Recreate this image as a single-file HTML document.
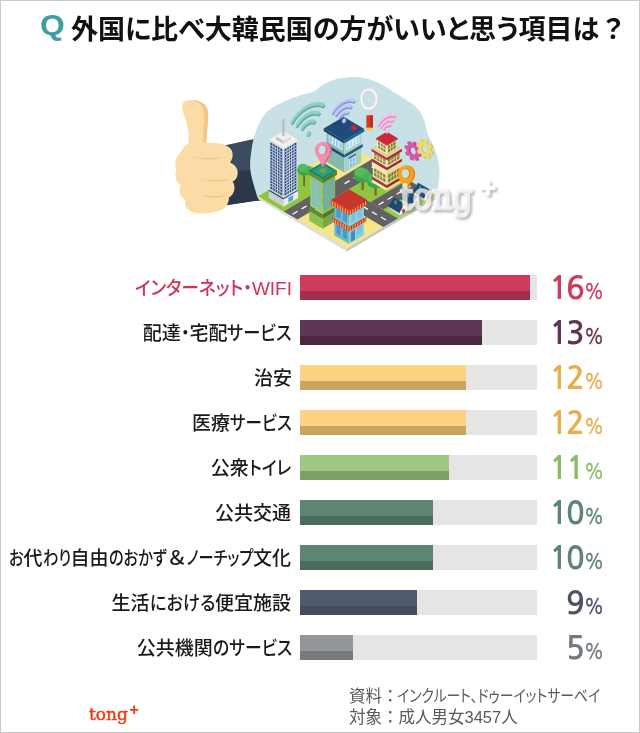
<!DOCTYPE html>
<html lang="ja">
<head>
<meta charset="utf-8">
<title>外国に比べ大韓民国の方がいいと思う項目は？</title>
<style>
html,body{margin:0;padding:0;background:#fff;}
body{width:640px;height:733px;overflow:hidden;position:relative;font-family:"Liberation Sans","Noto Sans CJK JP",sans-serif;}
#frame{position:absolute;left:0;top:0;width:640px;height:733px;background:#fff;}
#edge{position:absolute;left:0;top:0;width:640px;height:733px;box-sizing:border-box;border:1px solid #c9c9c9;pointer-events:none;}
.abs{position:absolute;white-space:nowrap;}
#q{left:39.5px;top:5px;font-size:30px;line-height:40px;color:#3a9fa3;font-weight:bold;transform-origin:left center;transform:scaleX(1.06);}
#title{left:71px;top:9.5px;font-size:27px;line-height:40px;font-weight:bold;color:#111;font-feature-settings:'palt';transform-origin:left center;letter-spacing:0;}
.row{position:absolute;left:0;width:640px;height:25px;}
.track{position:absolute;left:300px;top:0;width:237px;height:25px;background:#e5e5e5;}
.bar{position:absolute;left:0;top:0;height:25px;}
.bar i{position:absolute;left:0;right:0;bottom:0;height:9px;display:block;}
.lab{position:absolute;right:348px;font-feature-settings:'palt';top:-1.5px;height:30px;line-height:30px;font-size:19px;font-weight:500;color:#1a1a1a;white-space:nowrap;transform-origin:right center;font-family:"Liberation Sans","Noto Sans CJK JP",sans-serif;}
.lab .k{display:inline-block;transform-origin:left center;}
.pct{position:absolute;right:32.5px;text-align:right;top:-6.5px;height:40px;line-height:40px;font-size:31px;font-weight:700;white-space:nowrap;letter-spacing:-2.2px;font-family:"NanumGothic","Noto Sans CJK JP","Liberation Sans",sans-serif;}
.pct b{font-weight:400;font-size:22px;letter-spacing:0;-webkit-text-stroke:0.5px currentColor;display:inline-block;transform:scaleX(.84);transform-origin:left bottom;margin-left:1px;}
#src{left:349px;top:686px;font-size:16.5px;line-height:21px;color:#5a5a5a;font-feature-settings:'palt';transform-origin:left top;}
#src .k{display:inline-block;transform-origin:left center;transform:scaleX(.84);margin-left:-2px;}
#src .c{font-feature-settings:normal;}
#logo{left:89px;top:699.5px;font-family:"DejaVu Serif","Liberation Serif",serif;font-weight:normal;font-size:17px;line-height:28px;color:#f03c14;-webkit-text-stroke:0.5px #f03c14;}
#logo sup{position:absolute;left:40.5px;top:-4px;font-size:16px;line-height:28px;font-weight:bold;-webkit-text-stroke:0;font-family:"Liberation Sans",sans-serif;}
</style>
</head>
<body>
<div id="frame">
<div id="q" class="abs">Q</div>
<div id="title" class="abs">外国に比べ大韓民国の方がいいと思う項目は<span style="margin-left:5px">？</span></div>

<!--ILLUSTRATION-->
<svg id="art" width="640" height="270" viewBox="0 0 640 270" style="position:absolute;left:0;top:0">
<polygon points="222.0,146.0 256.0,138.5 262.0,200.0 224.0,205.5" fill="#3b4a5f"/>
<polygon points="230.0,172.0 258.0,169.0 262.0,200.0 224.0,205.5" fill="#2c3849"/>
<path d="M250.5,171.0 C249.5,163.1 250.6,156.7 251.5,150.0 C252.4,143.3 253.8,137.0 256.0,131.0 C258.2,125.0 261.0,118.6 265.0,114.0 C269.0,109.4 274.2,106.6 280.0,103.5 C285.8,100.4 294.2,97.5 300.0,95.5 C305.8,93.5 315.0,91.5 315.0,91.5 C315.0,91.5 318.8,87.1 322.5,85.0 C326.2,82.9 332.1,80.1 337.5,78.8 C342.9,77.5 349.6,76.9 355.0,77.0 C360.4,77.1 365.0,78.0 370.0,79.5 C375.0,81.0 381.2,84.2 385.0,86.3 C388.8,88.4 393.0,92.0 393.0,92.0 C393.0,92.0 396.2,93.5 400.0,96.0 C403.8,98.5 411.7,103.0 415.6,106.7 C419.5,110.4 421.4,114.1 423.4,118.4 C425.3,122.7 426.3,129.3 427.3,132.5 C428.3,135.7 428.3,135.4 429.4,137.8 C430.5,140.2 432.5,143.3 434.0,147.2 C435.5,151.1 437.5,156.8 438.4,161.3 C439.3,165.8 439.4,169.9 439.4,174.0 C439.4,178.1 438.8,182.2 438.2,186.0 C437.6,189.8 435.5,196.5 435.5,196.5 C435.5,196.5 346.9,250.6 346.9,250.6 C346.9,250.6 257.5,197.2 257.5,197.2 C257.5,197.2 251.5,178.9 250.5,171.0Z" fill="#c8e1e6"/>
<path d="M188.5,143 C190,130 185,118 182.5,110 C180.5,102 186,99.5 192,100 C201,100.5 207,104 208,112 C209,124 206,134 206.5,143 C216,142 228,144 231.5,150 C234,155 232,160 230,162.5 C237,165 239.5,172 236.5,178 C235.5,180 234,181 232.5,181.5 C236,186 235,194 229,197.5 C229,204 225,209 219,211 C210,214 196,214.5 191,211.5 C186,209 184,204 185.5,200 C180,197 178,190 181,185.5 C176,182 174,175 176.5,170 C173.5,164 176,156 181,152 C183,148 185,145 188.5,143Z" fill="#fbdca6"/>
<path d="M193,100 C201,100.5 207,104 208,112 C209,124 206,134 206.5,143 L203,142 C203,130 205,118 203.5,111 C202.5,105 198,102 193,100Z" fill="#f2c888"/>
<path d="M193,156.5 C203,158.5 214,158.5 223,156.5 C214,160.5 203,160 193,156.5Z" fill="#efc27e"/>
<path d="M199.5,178.5 C210,180.5 222,180.5 231,178.5 C222,182.5 210,182 199.5,178.5Z" fill="#efc27e"/>
<path d="M202,195 C210,196.5 219,196.5 226.5,195 C219,198.5 210,198 202,195Z" fill="#efc27e"/>
<polygon points="258.1,196.2 346.9,248.6 346.9,251.4 258.1,199.1" fill="#dedede"/>
<polygon points="346.9,248.6 435.9,196.1 435.9,198.9 346.9,251.4" fill="#c6c6c6"/>
<g>
<polygon points="258.1,196.2 346.9,248.6 435.9,196.1 347.1,143.7" fill="#f7e58b"/>
<polygon points="258.1,196.2 283.7,211.4 335.7,180.7 310.1,165.6" fill="#8dc63f"/>
<polygon points="348.5,189.4 370.1,202.2 408.1,179.7 386.5,167.0" fill="#8dc63f"/>
<polygon points="383.1,209.8 397.9,218.6 435.9,196.1 421.1,187.4" fill="#8dc63f"/>
<polygon points="283.7,211.4 297.5,219.5 386.5,167.0 372.7,158.8" fill="#626262"/>
<polygon points="334.0,198.0 383.4,227.1 397.9,218.6 348.5,189.4" fill="#626262"/>
<polygon points="370.1,202.2 383.1,209.8 421.1,187.4 408.1,179.7" fill="#626262"/>
<path d="M292.6,214.2 L297.6,211.3 M301.6,208.9 L306.6,206.0 M310.6,203.6 L315.6,200.7 M319.6,198.3 L324.6,195.4 M344.6,183.6 L349.6,180.6 M353.6,178.3 L358.6,175.3 M362.6,172.9 L367.6,170.0 M371.6,167.6 L376.6,164.7 M344.9,195.8 L349.9,198.8 M353.9,201.1 L358.9,204.1 M362.9,206.4 L367.9,209.4 M371.9,211.7 L376.9,214.7 M380.9,217.0 L385.9,220.0 M378.6,204.8 L383.6,201.9 M387.6,199.5 L392.6,196.5 M396.6,194.2 L401.6,191.2 M405.6,188.9 L410.6,185.9 " stroke="#fff" stroke-width="1.3" fill="none"/>
</g>
<polygon points="326.7,162.0 344.3,172.4 344.3,141.4 326.7,131.0" fill="#86b8ab"/><polygon points="344.3,172.4 361.3,162.4 361.3,131.4 344.3,141.4" fill="#a6d2c6"/>
<polygon points="325.3,146.5 344.3,157.7 344.3,154.7 325.3,143.5" fill="#1f4a7a"/>
<polygon points="344.3,157.7 362.7,146.9 362.7,143.9 344.3,154.7" fill="#2a5a8c"/>
<polygon points="328.7,142.2 342.3,150.2 342.3,143.2 328.7,135.2" fill="#f1f6f8"/>
<polygon points="329.2,141.9 341.8,149.3 341.8,143.5 329.2,136.1" fill="#8ecbf2"/>
<path d="M332.4,143.8 L332.4,138.0 M335.5,145.6 L335.5,139.8 M338.7,147.5 L338.7,141.7 " stroke="#f1f6f8" stroke-width="1.1" fill="none"/>
<polygon points="346.3,150.2 359.3,142.6 359.3,135.6 346.3,143.2" fill="#f6fafb"/>
<polygon points="346.8,149.3 358.8,142.3 358.8,136.5 346.8,143.5" fill="#a9d8f7"/>
<path d="M349.8,147.6 L349.8,141.8 M352.8,145.8 L352.8,140.0 M355.8,144.0 L355.8,138.2 " stroke="#f6fafb" stroke-width="1.1" fill="none"/>
<polygon points="349.3,168.5 355.3,164.9 355.3,154.9 349.3,158.5" fill="#dfeff0"/>
<polygon points="349.9,168.1 354.7,165.3 354.7,156.8 349.9,159.6" fill="#7fbdf0"/>
<path d="M352.3,166.7 L352.3,158.2 M349.9,163.9 L354.7,161.0 " stroke="#dfeff0" stroke-width="0.7" fill="none"/>
<polygon points="348.7,159.3 355.9,155.1 355.9,153.4 348.7,157.6" fill="#2a5a8c"/>
<polygon points="323.7,131.0 344.3,143.2 344.3,140.8 323.7,128.6" fill="#163c66"/><polygon points="344.3,143.2 364.3,131.4 364.3,129.0 344.3,140.8" fill="#205a90"/><polygon points="323.7,128.6 344.3,140.8 364.3,129.0 343.7,116.8" fill="#1c4b7c"/>
<path d="M350.5,126.5 h2.2 v-2 h2.2 v2 h2.2 v2.4 h-2.2 v2 h-2.2 v-2 h-2.2z" fill="#d9232e"/>
<polygon points="268.7,198.0 283.4,206.7 283.4,198.7 268.7,190.0" fill="#cdcdcd"/><polygon points="283.4,206.7 298.1,198.0 298.1,190.0 283.4,198.7" fill="#ececec"/>
<polygon points="268.7,190.8 283.4,199.5 283.4,198.1 268.7,189.4" fill="#1f4e9a"/>
<polygon points="283.4,199.5 298.1,190.8 298.1,189.4 283.4,198.1" fill="#2a5cab"/>
<polygon points="269.3,189.4 283.4,197.7 283.4,147.8 269.3,139.5" fill="#dcdcdc"/><polygon points="283.4,197.7 297.5,189.4 297.5,139.5 283.4,147.8" fill="#e9e9e9"/><polygon points="269.3,139.5 283.4,147.8 297.5,139.5 283.4,131.2" fill="#f2f2f2"/>
<polygon points="270.4,188.7 282.3,195.7 282.3,149.2 270.4,142.2" fill="#234e93"/>
<path d="M272.8,190.1 L272.8,143.6 M275.2,191.5 L275.2,145.0 M277.5,192.9 L277.5,146.4 M279.9,194.3 L279.9,147.8 M270.4,185.8 L282.3,192.8 M270.4,182.9 L282.3,189.9 M270.4,180.0 L282.3,187.0 M270.4,177.0 L282.3,184.1 M270.4,174.1 L282.3,181.2 M270.4,171.2 L282.3,178.3 M270.4,168.3 L282.3,175.3 M270.4,165.4 L282.3,172.4 M270.4,162.5 L282.3,169.5 M270.4,159.6 L282.3,166.6 M270.4,156.7 L282.3,163.7 M270.4,153.8 L282.3,160.8 M270.4,150.9 L282.3,157.9 M270.4,148.0 L282.3,155.0 M270.4,145.1 L282.3,152.1 " stroke="#dcdcdc" stroke-width="0.8" fill="none"/>
<polygon points="284.5,195.7 296.4,188.7 296.4,142.2 284.5,149.2" fill="#1f4789"/>
<path d="M286.9,194.3 L286.9,147.8 M289.3,192.9 L289.3,146.4 M291.6,191.5 L291.6,145.0 M294.0,190.1 L294.0,143.6 M284.5,192.8 L296.4,185.8 M284.5,189.9 L296.4,182.9 M284.5,187.0 L296.4,180.0 M284.5,184.1 L296.4,177.0 M284.5,181.2 L296.4,174.1 M284.5,178.3 L296.4,171.2 M284.5,175.3 L296.4,168.3 M284.5,172.4 L296.4,165.4 M284.5,169.5 L296.4,162.5 M284.5,166.6 L296.4,159.6 M284.5,163.7 L296.4,156.7 M284.5,160.8 L296.4,153.8 M284.5,157.9 L296.4,150.9 M284.5,155.0 L296.4,148.0 M284.5,152.1 L296.4,145.1 " stroke="#e9e9e9" stroke-width="0.8" fill="none"/>
<polygon points="288.4,202.7 293.1,200.0 293.1,195.0 288.4,197.7" fill="#5aa0e0"/>
<polygon points="275.9,139.5 283.4,143.9 283.4,140.4 275.9,136.0" fill="#c6c6c6"/><polygon points="283.4,143.9 290.9,139.5 290.9,136.0 283.4,140.4" fill="#dedede"/><polygon points="275.9,136.0 283.4,140.4 290.9,136.0 283.4,131.6" fill="#efefef"/>
<rect x="282.3" y="119.0" width="2.2" height="17" fill="#bcbcbc"/>
<rect x="303.2" y="172.2" width="1.8" height="14.0" fill="#8a5a33"/><ellipse cx="304.1" cy="170.2" rx="7.0" ry="5.2" fill="#3aa54a"/><ellipse cx="302.9" cy="167.7" rx="5.2" ry="4.0" fill="#52bd5c"/><ellipse cx="307.3" cy="170.7" rx="3.6" ry="3.0" fill="#49b455"/>
<rect x="361.5" y="178.3" width="2.3" height="11.7" fill="#8a5a33"/><ellipse cx="362.7" cy="175.7" rx="9.1" ry="6.8" fill="#3aa54a"/><ellipse cx="361.1" cy="172.4" rx="6.8" ry="5.2" fill="#52bd5c"/><ellipse cx="366.9" cy="176.3" rx="4.7" ry="3.9" fill="#49b455"/>
<rect x="374.5" y="184.6" width="2.2" height="10.8" fill="#8a5a33"/><ellipse cx="375.6" cy="182.2" rx="8.4" ry="6.2" fill="#3aa54a"/><ellipse cx="374.2" cy="179.2" rx="6.2" ry="4.8" fill="#52bd5c"/><ellipse cx="379.4" cy="182.8" rx="4.3" ry="3.6" fill="#49b455"/>
<polygon points="372.0,182.2 386.8,191.0 386.8,187.7 372.0,178.9" fill="#f5ecb5"/><polygon points="386.8,191.0 401.6,182.2 401.6,178.9 386.8,187.7" fill="#e9dc98"/>
<polygon points="371.6,178.9 386.8,187.9 386.8,185.4 371.6,176.4" fill="#c0273d"/><polygon points="386.8,187.9 402.0,178.9 402.0,176.4 386.8,185.4" fill="#a31f32"/>
<polygon points="372.8,176.4 386.8,184.7 386.8,174.0 372.8,165.7" fill="#f5ecb5"/><polygon points="386.8,184.7 400.8,176.4 400.8,165.7 386.8,174.0" fill="#e9dc98"/>
<polygon points="374.1,175.8 385.4,182.5 385.4,174.7 374.1,168.0" fill="#8e8244"/><path d="M376.9,177.5 L376.9,169.7 M379.8,179.2 L379.8,171.4 M382.6,180.8 L382.6,173.0 M374.1,171.9 L385.4,178.6 " stroke="#f5ecb5" stroke-width="0.8" fill="none"/><polygon points="388.1,182.5 399.5,175.8 399.5,168.0 388.1,174.7" fill="#7f7439"/><path d="M390.9,180.8 L390.9,173.0 M393.8,179.2 L393.8,171.4 M396.6,177.5 L396.6,169.7 M388.1,178.6 L399.5,171.9 " stroke="#e9dc98" stroke-width="0.8" fill="none"/>
<polygon points="371.8,165.7 386.8,174.6 386.8,170.1 371.8,161.2" fill="#f5ecb5"/><polygon points="386.8,174.6 401.8,165.7 401.8,161.2 386.8,170.1" fill="#e9dc98"/>
<polygon points="371.6,161.2 386.8,170.2 386.8,167.7 371.6,158.7" fill="#c0273d"/><polygon points="386.8,170.2 402.0,161.2 402.0,158.7 386.8,167.7" fill="#a31f32"/>
<polygon points="372.8,158.7 386.8,167.0 386.8,159.5 372.8,151.2" fill="#f5ecb5"/><polygon points="386.8,167.0 400.8,158.7 400.8,151.2 386.8,159.5" fill="#e9dc98"/>
<polygon points="374.1,158.4 385.4,165.1 385.4,159.5 374.1,152.8" fill="#8e8244"/><path d="M376.9,160.1 L376.9,154.5 M379.8,161.8 L379.8,156.2 M382.6,163.4 L382.6,157.8 M374.1,155.6 L385.4,162.3 " stroke="#f5ecb5" stroke-width="0.8" fill="none"/><polygon points="388.1,165.1 399.5,158.4 399.5,152.8 388.1,159.5" fill="#7f7439"/><path d="M390.9,163.4 L390.9,157.8 M393.8,161.8 L393.8,156.2 M396.6,160.1 L396.6,154.5 M388.1,162.3 L399.5,155.6 " stroke="#e9dc98" stroke-width="0.8" fill="none"/>
<polygon points="371.6,151.2 386.8,160.2 386.8,157.7 371.6,148.7" fill="#c0273d"/><polygon points="386.8,160.2 402.0,151.2 402.0,148.7 386.8,157.7" fill="#a31f32"/><polygon points="371.6,148.7 386.8,157.7 402.0,148.7 386.8,139.8" fill="#d8cf9a"/>
<polygon points="376.8,148.7 386.8,154.6 386.8,145.1 376.8,139.2" fill="#f5ecb5"/><polygon points="386.8,154.6 396.8,148.7 396.8,139.2 386.8,145.1" fill="#e9dc98"/>
<polygon points="378.1,148.0 385.4,152.4 385.4,145.9 378.1,141.5" fill="#8e8244"/><path d="M380.5,149.5 L380.5,143.0 M383.0,150.9 L383.0,144.4 M378.1,144.8 L385.4,149.1 " stroke="#f5ecb5" stroke-width="0.8" fill="none"/><polygon points="388.1,152.4 395.5,148.0 395.5,141.5 388.1,145.9" fill="#7f7439"/><path d="M390.5,150.9 L390.5,144.4 M393.0,149.5 L393.0,143.0 M388.1,149.1 L395.5,144.8 " stroke="#e9dc98" stroke-width="0.8" fill="none"/>
<polygon points="375.8,139.2 386.8,145.7 386.8,144.7 375.8,138.2" fill="#b3233a"/><polygon points="386.8,145.7 397.8,139.2 397.8,138.2 386.8,144.7" fill="#9c1d30"/><polygon points="375.8,138.2 386.8,144.7 397.8,138.2 386.8,131.7" fill="#c9283a"/>
<polygon points="386.6,210.1 398.8,217.3 434.8,196.1 422.6,188.9" fill="#a6d85a"/>
<polygon points="388.2,210.1 398.8,216.4 433.2,196.1 422.6,189.8" fill="#8dc63f"/>
<polygon points="415.1,195.7 424.1,201.0 424.1,196.5 415.1,191.2" fill="#d4d4d4"/><polygon points="424.1,201.0 432.1,196.2 432.1,191.8 428.1,188.6 424.1,196.5" fill="#f4f4f4"/><polygon points="426.8,199.4 429.4,197.8 429.4,193.6 426.8,195.2" fill="#c8283a"/><polygon points="429.1,189.2 434.3,192.4 423.3,185.9 418.1,182.7" fill="#16335a"/><polygon points="412.9,192.1 423.9,198.6 429.1,189.2 418.1,182.7" fill="#1f4573"/><rect x="419.0" y="185.8" width="2.2" height="4" fill="#2a9d8f"/>
<polygon points="403.1,202.7 412.1,208.1 412.1,203.6 403.1,198.2" fill="#d4d4d4"/><polygon points="412.1,208.1 420.1,203.3 420.1,198.8 416.1,195.7 412.1,203.6" fill="#f4f4f4"/><polygon points="414.8,206.5 417.4,204.9 417.4,200.7 414.8,202.3" fill="#c8283a"/><polygon points="417.1,196.3 422.3,199.5 411.3,193.0 406.1,189.8" fill="#16335a"/><polygon points="400.9,199.2 411.9,205.6 417.1,196.3 406.1,189.8" fill="#1f4573"/><rect x="407.0" y="192.9" width="2.2" height="4" fill="#2a9d8f"/>
<polygon points="390.6,210.1 399.6,215.4 399.6,210.9 390.6,205.6" fill="#d4d4d4"/><polygon points="399.6,215.4 407.6,210.7 407.6,206.2 403.6,203.1 399.6,210.9" fill="#f4f4f4"/><polygon points="402.3,213.8 404.9,212.3 404.9,208.1 402.3,209.6" fill="#c8283a"/><polygon points="404.6,203.7 409.8,206.9 398.8,200.4 393.6,197.2" fill="#16335a"/><polygon points="388.4,206.5 399.4,213.0 404.6,203.7 393.6,197.2" fill="#1f4573"/><rect x="394.5" y="200.3" width="2.2" height="4" fill="#2a9d8f"/>
<polygon points="309.2,220.7 322.7,228.7 322.7,218.9 309.2,210.9" fill="#8cc152"/><polygon points="322.7,228.7 336.2,220.7 336.2,210.9 322.7,218.9" fill="#76aa41"/>
<polygon points="309.2,210.9 322.7,218.9 322.7,214.0 309.2,206.0" fill="#5d8a3a"/><polygon points="322.7,218.9 336.2,210.9 336.2,206.0 322.7,214.0" fill="#4f7a30"/>
<polygon points="310.2,206.0 322.7,213.4 322.7,182.1 310.2,174.7" fill="#9ccf6a"/><polygon points="322.7,213.4 335.2,206.0 335.2,174.7 322.7,182.1" fill="#84b755"/>
<polygon points="311.9,204.2 321.0,209.6 321.0,183.6 311.9,178.2" fill="#7ab7e8"/>
<path d="M314.2,205.6 L314.2,179.6 M316.5,206.9 L316.5,180.9 M318.7,208.3 L318.7,182.3 M311.9,200.5 L321.0,205.9 M311.9,196.8 L321.0,202.2 M311.9,193.1 L321.0,198.5 M311.9,189.4 L321.0,194.7 M311.9,185.7 L321.0,191.0 M311.9,182.0 L321.0,187.3 " stroke="#9ccf6a" stroke-width="0.8" fill="none"/>
<polygon points="324.4,209.6 333.5,204.2 333.5,178.2 324.4,183.6" fill="#6aa6da"/>
<path d="M326.7,208.3 L326.7,182.3 M329.0,206.9 L329.0,180.9 M331.2,205.6 L331.2,179.6 M324.4,205.9 L333.5,200.5 M324.4,202.2 L333.5,196.8 M324.4,198.5 L333.5,193.1 M324.4,194.7 L333.5,189.4 M324.4,191.0 L333.5,185.7 M324.4,187.3 L333.5,182.0 " stroke="#84b755" stroke-width="0.8" fill="none"/>
<polygon points="330.7,223.0 335.2,220.3 335.2,213.8 330.7,216.5" fill="#5b9be0"/>
<path d="M333.0,221.7 L333.0,215.2 M330.7,219.7 L335.2,217.1 " stroke="#76aa41" stroke-width="0.6" fill="none"/>
<polygon points="308.4,174.7 322.7,183.2 322.7,179.2 308.4,170.7" fill="#6f8f2c"/><polygon points="322.7,183.2 337.0,174.7 337.0,170.7 322.7,179.2" fill="#5c7a26"/><polygon points="308.4,170.7 322.7,179.2 337.0,170.7 322.7,162.3" fill="#17806f"/>
<polygon points="311.6,170.7 322.7,177.3 333.8,170.7 322.7,164.2" fill="#22a08a"/>
<polygon points="318.2,170.7 322.7,173.4 327.2,170.7 322.7,168.1" fill="#8f9a2c"/>
<polygon points="334.3,235.2 349.1,244.0 349.1,211.0 334.3,202.2" fill="#66c0bb"/><polygon points="349.1,244.0 363.9,235.2 363.9,202.2 349.1,211.0" fill="#8ed4cf"/>
<polygon points="336.4,216.5 340.5,218.9 340.5,209.9 336.4,207.5" fill="#4f93dc"/>
<polygon points="336.4,233.5 340.5,235.9 340.5,225.9 336.4,223.5" fill="#4f93dc"/>
<polygon points="351.2,222.8 355.3,220.3 355.3,211.3 351.2,213.8" fill="#7fbdf0"/>
<polygon points="342.9,220.3 347.0,222.8 347.0,213.8 342.9,211.3" fill="#4f93dc"/>
<polygon points="342.9,237.3 347.0,239.8 347.0,229.8 342.9,227.3" fill="#4f93dc"/>
<polygon points="357.7,218.9 361.8,216.5 361.8,207.5 357.7,209.9" fill="#7fbdf0"/>
<polygon points="350.9,241.9 355.0,239.5 355.0,229.5 350.9,231.9" fill="#4f86c8"/>
<polygon points="356.8,235.4 362.1,232.3 362.1,224.3 356.8,227.4" fill="#7fbdf0"/>
<polygon points="331.9,221.2 349.1,231.4 349.1,226.9 331.9,216.7" fill="#d8372c"/><polygon points="349.1,231.4 366.3,221.2 366.3,216.7 349.1,226.9" fill="#c42f26"/><path d="M333.1,222.0 L333.1,218.3 M335.6,223.4 L335.6,219.7 M338.0,224.9 L338.0,221.2 M340.5,226.3 L340.5,222.6 M343.0,227.8 L343.0,224.1 M345.4,229.2 L345.4,225.5 M347.9,230.7 L347.9,227.0 M350.3,230.7 L350.3,227.0 M352.8,229.2 L352.8,225.5 M355.2,227.8 L355.2,224.1 M357.7,226.3 L357.7,222.6 M360.2,224.9 L360.2,221.2 M362.6,223.4 L362.6,219.7 M365.1,222.0 L365.1,218.3 " stroke="#f6a94b" stroke-width="1.2" fill="none"/>
<polygon points="331.3,204.7 349.1,215.3 349.1,210.4 331.3,199.8" fill="#d8372c"/><polygon points="349.1,215.3 366.9,204.7 366.9,199.8 349.1,210.4" fill="#c42f26"/><path d="M332.6,205.5 L332.6,201.4 M335.1,207.0 L335.1,202.9 M337.7,208.5 L337.7,204.4 M340.2,210.0 L340.2,205.9 M342.7,211.5 L342.7,207.4 M345.3,213.0 L345.3,208.9 M347.8,214.5 L347.8,210.4 M350.4,214.5 L350.4,210.4 M352.9,213.0 L352.9,208.9 M355.5,211.5 L355.5,207.4 M358.0,210.0 L358.0,205.9 M360.5,208.5 L360.5,204.4 M363.1,207.0 L363.1,202.9 M365.6,205.5 L365.6,201.4 " stroke="#f6a94b" stroke-width="1.2" fill="none"/>
<polygon points="331.3,199.8 349.1,210.4 366.9,199.8 349.1,189.3" fill="#c8352b"/>
<g transform="translate(308.5,133.5) rotate(-61) scale(1.40,0.88) rotate(61)"><path d="M-8.37,-4.83 A9.66,9.66 0 0 1 4.68,-8.45M-14.14,-8.16 A16.33,16.33 0 0 1 7.92,-14.28M-19.92,-11.50 A23.00,23.00 0 0 1 11.15,-20.12" transform="translate(1.0,1.5)" stroke="#5fb0aa" stroke-width="2.7" fill="none"/><path d="M-8.37,-4.83 A9.66,9.66 0 0 1 4.68,-8.45M-14.14,-8.16 A16.33,16.33 0 0 1 7.92,-14.28M-19.92,-11.50 A23.00,23.00 0 0 1 11.15,-20.12" stroke="#8fd0c9" stroke-width="2.7" fill="none"/><circle cx="0.8" cy="0.8" r="2.0" fill="#5fb0aa"/><circle cx="0" cy="0" r="2.0" fill="#8fd0c9"/></g>
<g transform="translate(343.8,120.5) rotate(-61) scale(1.40,0.88) rotate(61)"><path d="M-5.82,-3.36 A6.72,6.72 0 0 1 3.26,-5.88M-9.84,-5.68 A11.36,11.36 0 0 1 5.51,-9.94M-13.86,-8.00 A16.00,16.00 0 0 1 7.76,-13.99" transform="translate(1.0,1.5)" stroke="#8a97df" stroke-width="2.3" fill="none"/><path d="M-5.82,-3.36 A6.72,6.72 0 0 1 3.26,-5.88M-9.84,-5.68 A11.36,11.36 0 0 1 5.51,-9.94M-13.86,-8.00 A16.00,16.00 0 0 1 7.76,-13.99" stroke="#c3c9f3" stroke-width="2.3" fill="none"/><circle cx="0.8" cy="0.8" r="1.7" fill="#8a97df"/><circle cx="0" cy="0" r="1.7" fill="#c3c9f3"/></g>
<g transform="translate(387.0,131.0) rotate(-61) scale(1.40,0.88) rotate(61)"><path d="M-4.55,-2.62 A5.25,5.25 0 0 1 2.55,-4.59M-7.69,-4.44 A8.88,8.88 0 0 1 4.30,-7.76M-10.83,-6.25 A12.50,12.50 0 0 1 6.06,-10.93" transform="translate(1.0,1.5)" stroke="#e58fd0" stroke-width="2.1" fill="none"/><path d="M-4.55,-2.62 A5.25,5.25 0 0 1 2.55,-4.59M-7.69,-4.44 A8.88,8.88 0 0 1 4.30,-7.76M-10.83,-6.25 A12.50,12.50 0 0 1 6.06,-10.93" stroke="#f4c3e8" stroke-width="2.1" fill="none"/><circle cx="0.8" cy="0.8" r="1.6" fill="#e58fd0"/><circle cx="0" cy="0" r="1.6" fill="#f4c3e8"/></g>
<path d="M324.1,167.0 C321.4,159.3 316.9,155.7 316.9,152.3 A7.6,7.6 0 1 1 331.3,152.3 C331.3,155.7 326.8,159.3 324.1,167.0Z" fill="#e0668f"/><path d="M322.5,167.0 C319.8,159.3 315.3,155.7 315.3,152.3 A7.6,7.6 0 1 1 329.7,152.3 C329.7,155.7 325.2,159.3 322.5,167.0Z" fill="#f58fb0"/><ellipse cx="323.2" cy="150.0" rx="4.0" ry="4.7" fill="#e0668f"/><ellipse cx="322.3" cy="150.0" rx="3.5" ry="4.4" fill="#c8e1e6"/>
<path d="M407.2,189.6 C404.4,182.4 399.6,179.6 399.6,176.0 A8.0,8.0 0 1 1 414.8,176.0 C414.8,179.6 410.0,182.4 407.2,189.6Z" fill="#e0880a"/><path d="M405.6,189.6 C402.8,182.4 398.0,179.6 398.0,176.0 A8.0,8.0 0 1 1 413.2,176.0 C413.2,179.6 408.4,182.4 405.6,189.6Z" fill="#f7a21e"/><ellipse cx="406.3" cy="173.6" rx="4.2" ry="5.0" fill="#e0880a"/><ellipse cx="405.4" cy="173.6" rx="3.7" ry="4.6" fill="#c8e1e6"/>
<g transform="translate(412.5,151.0) rotate(-25) scale(0.72,1)"><path d="M11.95,-1.18 L11.95,2.38 L9.13,2.52 L8.28,4.56 L10.17,6.66 L7.66,9.17 L5.56,7.28 L3.52,8.13 L3.38,10.95 L-0.18,10.95 L-0.32,8.13 L-2.36,7.28 L-4.46,9.17 L-6.97,6.66 L-5.08,4.56 L-5.93,2.52 L-8.75,2.38 L-8.75,-1.18 L-5.93,-1.32 L-5.08,-3.36 L-6.97,-5.46 L-4.46,-7.97 L-2.36,-6.08 L-0.32,-6.93 L-0.18,-9.75 L3.38,-9.75 L3.52,-6.93 L5.56,-6.08 L7.66,-7.97 L10.17,-5.46 L8.28,-3.36 L9.13,-1.32 Z M-2.39,0.60 a3.99,3.99 0 1 0 7.98,0 a3.99,3.99 0 1 0 -7.98,0Z" fill="#bd3d90" fill-rule="evenodd"/><path d="M10.35,-1.78 L10.35,1.78 L7.53,1.92 L6.68,3.96 L8.57,6.06 L6.06,8.57 L3.96,6.68 L1.92,7.53 L1.78,10.35 L-1.78,10.35 L-1.92,7.53 L-3.96,6.68 L-6.06,8.57 L-8.57,6.06 L-6.68,3.96 L-7.53,1.92 L-10.35,1.78 L-10.35,-1.78 L-7.53,-1.92 L-6.68,-3.96 L-8.57,-6.06 L-6.06,-8.57 L-3.96,-6.68 L-1.92,-7.53 L-1.78,-10.35 L1.78,-10.35 L1.92,-7.53 L3.96,-6.68 L6.06,-8.57 L8.57,-6.06 L6.68,-3.96 L7.53,-1.92 Z M-3.99,0.00 a3.99,3.99 0 1 0 7.98,0 a3.99,3.99 0 1 0 -7.98,0Z" fill="#d458ab" fill-rule="evenodd"/></g>
<g transform="translate(424.5,149.0) rotate(-25) scale(0.72,1)"><path d="M12.24,-1.23 L12.24,2.43 L9.34,2.58 L8.47,4.68 L10.42,6.83 L7.83,9.42 L5.68,7.47 L3.58,8.34 L3.43,11.24 L-0.23,11.24 L-0.38,8.34 L-2.48,7.47 L-4.63,9.42 L-7.22,6.83 L-5.27,4.68 L-6.14,2.58 L-9.04,2.43 L-9.04,-1.23 L-6.14,-1.38 L-5.27,-3.48 L-7.22,-5.63 L-4.63,-8.22 L-2.48,-6.27 L-0.38,-7.14 L-0.23,-10.04 L3.43,-10.04 L3.58,-7.14 L5.68,-6.27 L7.83,-8.22 L10.42,-5.63 L8.47,-3.48 L9.34,-1.38 Z M-2.50,0.60 a4.10,4.10 0 1 0 8.21,0 a4.10,4.10 0 1 0 -8.21,0Z" fill="#d2c24f" fill-rule="evenodd"/><path d="M10.64,-1.83 L10.64,1.83 L7.74,1.98 L6.87,4.08 L8.82,6.23 L6.23,8.82 L4.08,6.87 L1.98,7.74 L1.83,10.64 L-1.83,10.64 L-1.98,7.74 L-4.08,6.87 L-6.23,8.82 L-8.82,6.23 L-6.87,4.08 L-7.74,1.98 L-10.64,1.83 L-10.64,-1.83 L-7.74,-1.98 L-6.87,-4.08 L-8.82,-6.23 L-6.23,-8.82 L-4.08,-6.87 L-1.98,-7.74 L-1.83,-10.64 L1.83,-10.64 L1.98,-7.74 L4.08,-6.87 L6.23,-8.82 L8.82,-6.23 L6.87,-4.08 L7.74,-1.98 Z M-4.10,0.00 a4.10,4.10 0 1 0 8.21,0 a4.10,4.10 0 1 0 -8.21,0Z" fill="#e9dc70" fill-rule="evenodd"/></g>
<rect x="367.6" y="108" width="3.6" height="8" fill="#d9d9d9"/>
<rect x="366.4" y="115.3" width="6.4" height="12.7" fill="#d8352b"/><rect x="370.6" y="115.3" width="2.2" height="12.7" fill="#b82a22"/><rect x="366.4" y="127.6" width="6.4" height="3" fill="#f3cf4a"/>
<ellipse cx="369.6" cy="99.3" rx="7.6" ry="9.6" fill="none" stroke="#cfcfcf" stroke-width="3"/>
<ellipse cx="369.0" cy="99.1" rx="7.6" ry="9.6" fill="none" stroke="#f4f4f4" stroke-width="2.4"/>
<g font-family="'DejaVu Serif','Liberation Serif',serif" font-size="35" stroke-linejoin="round"><g style="filter:blur(0.9px)" opacity=".42"><text x="402" y="211" fill="#5c6266" stroke="#5c6266" stroke-width="2.8" textLength="72.5" lengthAdjust="spacingAndGlyphs">tong</text><path d="M482.4,189.9h15M489.9,182.4v15" stroke="#5c6266" stroke-width="4.8" fill="none"/></g><text x="400" y="209" fill="#fff" stroke="#fff" stroke-width="2.6" opacity=".72" textLength="72.5" lengthAdjust="spacingAndGlyphs">tong</text><path d="M480.4,187.9h15M487.9,180.4v15" stroke="#fff" stroke-width="4.4" fill="none"/></g>
</svg>
<!--/ILLUSTRATION-->

<!--ROWS-->
<div class="row" style="top:275px"><div class="lab" style="color:#cc3558;"><span class="k" style="transform:scaleX(0.927);margin-right:-9.15px">インターネット・</span>WIFI</div><div class="track"><div class="bar" style="width:230px;background:#cf3b5c"><i style="background:#a52d4a"></i></div></div><div class="pct" style="color:#cf3b5c">16<b>%</b></div></div>
<div class="row" style="top:320px"><div class="lab" style="">配達<span class="k" style="transform:scaleX(0.907);margin-right:-0.88px">・</span>宅配<span class="k" style="transform:scaleX(0.907);margin-right:-6.62px">サービス</span></div><div class="track"><div class="bar" style="width:182px;background:#5e3552"><i style="background:#4a2840"></i></div></div><div class="pct" style="color:#5e3552">13<b>%</b></div></div>
<div class="row" style="top:365px"><div class="lab" style="">治安</div><div class="track"><div class="bar" style="width:166px;background:#fdd281"><i style="background:#c9a55e"></i></div></div><div class="pct" style="color:#e8ae4a">12<b>%</b></div></div>
<div class="row" style="top:410px"><div class="lab" style="">医療<span class="k" style="transform:scaleX(0.870);margin-right:-9.25px">サービス</span></div><div class="track"><div class="bar" style="width:166px;background:#fdd281"><i style="background:#c9a55e"></i></div></div><div class="pct" style="color:#e8ae4a">12<b>%</b></div></div>
<div class="row" style="top:455px"><div class="lab" style="right:349px;">公衆<span class="k" style="transform:scaleX(0.880);margin-right:-5.77px">トイレ</span></div><div class="track"><div class="bar" style="width:149px;background:#a0c882"><i style="background:#7f9f68"></i></div></div><div class="pct" style="color:#8bbb66">11<b>%</b></div></div>
<div class="row" style="top:500px"><div class="lab" style="right:349px;">公共交通</div><div class="track"><div class="bar" style="width:133px;background:#5e8572"><i style="background:#4b6c5c"></i></div></div><div class="pct" style="color:#5e8572">10<b>%</b></div></div>
<div class="row" style="top:545px"><div class="lab" style="right:349px;"><span class="k" style="transform:scaleX(0.800);margin-right:-3.65px">お</span>代<span class="k" style="transform:scaleX(0.800);margin-right:-6.99px">わり</span>自由<span class="k" style="transform:scaleX(0.800);margin-right:-36.10px">のおかず<span style="display:inline-block;transform:scaleX(1.4);margin:0 4.5px 0 4.5px">＆</span>ノーチップ</span>文化</div><div class="track"><div class="bar" style="width:133px;background:#5e8572"><i style="background:#4b6c5c"></i></div></div><div class="pct" style="color:#5e8572">10<b>%</b></div></div>
<div class="row" style="top:590px"><div class="lab" style="right:349px;">生活<span class="k" style="transform:scaleX(0.908);margin-right:-6.63px">における</span>便宜施設</div><div class="track"><div class="bar" style="width:117px;background:#525b6e"><i style="background:#434b5c"></i></div></div><div class="pct" style="color:#4b5468">9<b>%</b></div></div>
<div class="row" style="top:635px"><div class="lab" style="">公共機関<span class="k" style="transform:scaleX(0.885);margin-right:-10.29px">のサービス</span></div><div class="track"><div class="bar" style="width:53px;background:#939799"><i style="background:#777a7c"></i></div></div><div class="pct" style="color:#717a82">5<b>%</b></div></div>
<!--/ROWS-->

<div id="src" class="abs">資料<span class="c">：</span><span class="k">インクルート、ドゥーイットサーベイ</span><br>対象<span class="c">：</span>成人男女3457人</div>
<div id="logo" class="abs">tong<sup>+</sup></div>
<div id="edge"></div>
</div>
</body>
</html>
